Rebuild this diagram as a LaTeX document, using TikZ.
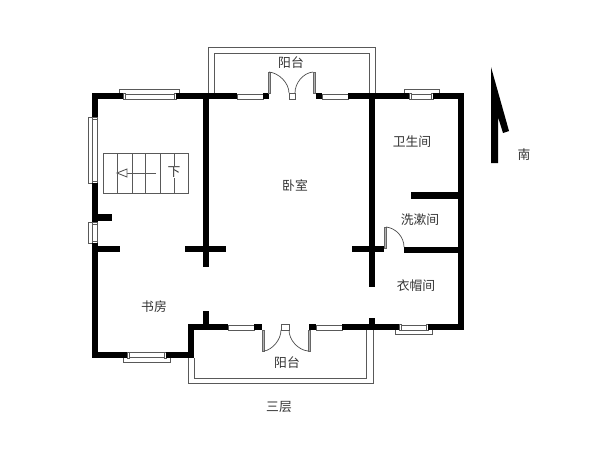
\documentclass[tikz,border=0pt]{standalone}
\usepackage{fontspec}
\setmainfont{Noto Sans CJK SC}
\tikzset{
  wall/.style={fill=black},
  thin line/.style={draw=black!65,line width=0.9pt},
  leaf/.style={draw=black!60,fill=black!30,line width=0.7pt},
  swing/.style={draw=black!70,line width=0.7pt},
  label/.style={text=black!80,font=\fontsize{12.8}{13}\selectfont,inner sep=0pt},
}
\begin{document}
\begin{tikzpicture}[x=1pt,y=-1pt]
\useasboundingbox (0,0) rectangle (600,450);
% balconies
\draw[thin line] (208,93) |- (375,47) -- (375,93);
\draw[thin line] (214,93) |- (369,53) -- (369,93);
\draw[thin line] (188,358) |- (373,383) -- (373,330);
\draw[thin line] (194,358) |- (366,378) -- (366,330);
% window bumps
\draw[thin line] (119,93) |- (179,89) -- (179,93);
\draw[thin line] (404,93) |- (439,89) -- (439,93);
\draw[thin line] (123,358) |- (170,362) -- (170,358);
\draw[thin line] (395,330) |- (432,334) -- (432,330);
\draw[thin line] (92,117) -| (88,183) -- (92,183);
\draw[thin line] (92,222) -| (88,243) -- (92,243);
% windows set in walls
\draw[thin line] (123,94) rectangle (176,99);
\draw[thin line] (237,94) rectangle (263,99);
\draw[thin line] (322,94) rectangle (348,99);
\draw[thin line] (409,94) rectangle (433,99);
\draw[thin line] (127,352) rectangle (166,357);
\draw[thin line] (228,325) rectangle (254,330);
\draw[thin line] (316,325) rectangle (342,330);
\draw[thin line] (399,325) rectangle (428,330);
\draw[thin line] (92.5,117) rectangle (97,183);
\draw[thin line] (92.5,222) rectangle (97,243);
% window end caps
\foreach \a in {123,174,409,431}{\draw[thin line,fill=white] (\a,93) rectangle (\a+2,99);}
\foreach \a in {127,164}{\draw[thin line,fill=white] (\a,352) rectangle (\a+2,358);}
\foreach \a in {399,426}{\draw[thin line,fill=white] (\a,324) rectangle (\a+2,330);}
\foreach \a in {117,181,222,241}{\draw[thin line,fill=white] (92,\a) rectangle (97,\a+2);}
% walls
\fill[wall] (92,93) rectangle (123,99);
\fill[wall] (176,93) rectangle (237,99);
\fill[wall] (263,93) rectangle (269,99);
\fill[wall] (316,93) rectangle (322,99);
\fill[wall] (348,93) rectangle (409,99);
\fill[wall] (433,93) rectangle (464,99);
\fill[wall] (458,93) rectangle (464,330);
\fill[wall] (92,93) rectangle (97.5,117);
\fill[wall] (92,183) rectangle (97.5,222);
\fill[wall] (92,243) rectangle (97.5,358);
\fill[wall] (92,214) rectangle (112,221);
\fill[wall] (92,246) rectangle (120,252);
\fill[wall] (92,352) rectangle (127,358);
\fill[wall] (166,352) rectangle (194,358);
\fill[wall] (188,324) rectangle (194,358);
\fill[wall] (188,324) rectangle (228,330);
\fill[wall] (254,324) rectangle (262,330);
\fill[wall] (309,324) rectangle (316,330);
\fill[wall] (342,324) rectangle (399,330);
\fill[wall] (428,324) rectangle (464,330);
\fill[wall] (203,96) rectangle (209,267);
\fill[wall] (185,246) rectangle (226,252);
\fill[wall] (203,311) rectangle (209,324);
\fill[wall] (369,96) rectangle (375,287);
\fill[wall] (352,246) rectangle (384,252);
\fill[wall] (369,318) rectangle (375,324);
\fill[wall] (404,247) rectangle (458,253);
\fill[wall] (411,192) rectangle (458,199);
% door leaves and swings
\draw[leaf] (313,72) rectangle (315.5,93);
\draw[leaf] (268,72) rectangle (270,93);
\draw[thin line,fill=white] (289,93) rectangle (295,99);
\draw[swing] (313,72) .. controls (303,73) and (295,83) .. (295,93);
\draw[swing] (269,72) .. controls (279,73) and (289,83) .. (289,93);
\draw[leaf] (308,330) rectangle (310,351);
\draw[leaf] (262,330) rectangle (264,351);
\draw[thin line,fill=white] (281,324) rectangle (289,330);
\draw[swing] (308,351) .. controls (298,350) and (289,340) .. (289,330);
\draw[swing] (264,351) .. controls (272,350) and (281,340) .. (281,330);
\draw[leaf] (384,227) rectangle (386,248);
\draw[swing] (386,227) .. controls (396,228) and (404,237) .. (404,247);
% stairs
\draw[thin line] (103,193) |- (188,153) -- (188,193) -- cycle;
\foreach \a in {117,132,145,160,174}{\draw[thin line] (\a,153) -- (\a,193);}
\draw[thin line,line width=0.7pt] (156,173) -- (127,173);
\draw[thin line,line width=0.9pt,fill=white] (117,173) -- (127,169) -- (127,177) -- cycle;
\node[label,fill=white,inner sep=1pt] (down) at (174,172) {下};
% north arrow
\fill[wall] (491,67) -- (509,131) -- (503,133) -- (498,117) -- (498,163) -- (491,163) -- cycle;
% labels
\node[label] (b1) at (291,63) {阳台};
\node[label] (wo) at (295,186) {卧室};
\node[label] (ws) at (412,142) {卫生间};
\node[label] (xs) at (420,220) {洗漱间};
\node[label] (ym) at (416,286) {衣帽间};
\node[label] (sf) at (154,307) {书房};
\node[label] (b2) at (287,363) {阳台};
\node[label] (sc) at (279,407) {三层};
\node[label] (na) at (524,155) {南};
\end{tikzpicture}
\end{document}
